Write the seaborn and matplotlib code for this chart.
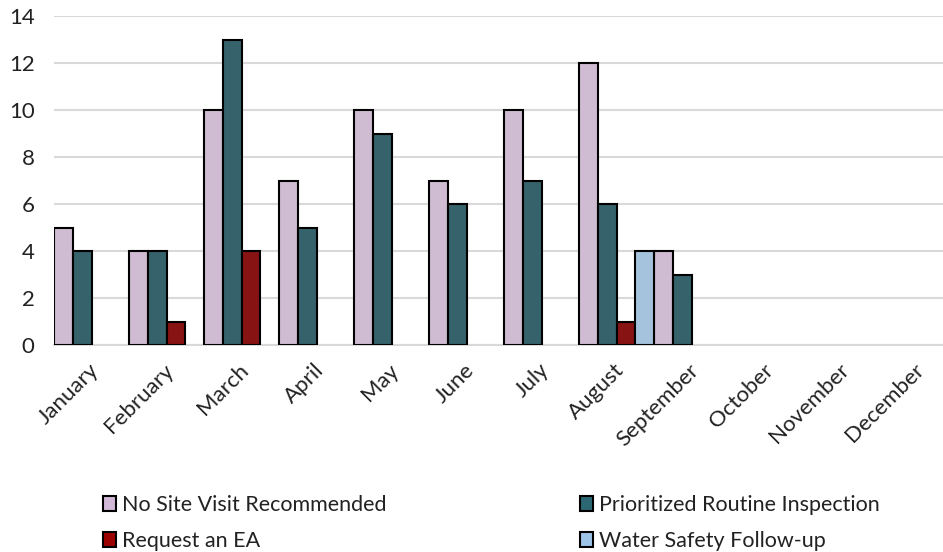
import numpy as np
import pandas as pd
import matplotlib
matplotlib.use("Agg")
import matplotlib.pyplot as plt
import matplotlib.transforms as mtransforms
import seaborn as sns
from matplotlib.patches import Patch

months = ["January", "February", "March", "April", "May", "June", "July",
          "August", "September", "October", "November", "December"]
series = ["No Site Visit Recommended", "Prioritized Routine Inspection",
          "Request an EA", "Water Safety Follow-up"]
no_site_visit = [5, 4, 10, 7, 10, 7, 10, 12, 4, None, None, None]
prioritized_routine = [4, 4, 13, 5, 9, 6, 7, 6, 3, None, None, None]
request_ea = [None, 1, 4, None, None, None, None, 1, None, None, None, None]
water_safety = [None, None, None, None, None, None, None, 4, None, None, None, None]
colors = ["#D1B8D7", "#2C6874", "#9B0000", "#9DC3E6"]

rows = []
for name, vals in zip(series, [no_site_visit, prioritized_routine, request_ea, water_safety]):
    for m, v in zip(months, vals):
        if v is not None:
            rows.append({"Month": m, "Series": name, "Count": v})
df = pd.DataFrame(rows)

sns.set_theme(style="white")
plt.rcParams["font.family"] = ["Lato", "DejaVu Sans"]

fig = plt.figure(figsize=(9.43, 5.52), dpi=100)
ax = fig.add_axes([54 / 943, 1 - 345 / 552, 1 - 54 / 943, (345 - 16) / 552])

sns.barplot(data=df, x="Month", y="Count", hue="Series", order=months,
            hue_order=series, palette=colors, width=1.0, gap=0,
            edgecolor="black", linewidth=1.5, ax=ax, legend=False, zorder=3)

ax.set_ylim(0, 14)
ax.set_yticks(range(0, 15, 2))
ax.set_xlim(-0.5, 11.35)
ax.yaxis.grid(True, color="#D9D9D9", linewidth=1.5, zorder=0)
ax.set_axisbelow(True)
for s in ["top", "right", "left"]:
    ax.spines[s].set_visible(False)
ax.spines["bottom"].set_color("#D9D9D9")
ax.spines["bottom"].set_linewidth(1.5)
ax.set_xlabel("")
ax.set_ylabel("")
ax.tick_params(axis="y", labelsize=16, pad=14, length=0, colors="#222222")
ax.tick_params(axis="x", labelsize=16, pad=0, length=0, colors="#222222")
offset = mtransforms.ScaledTranslation(4 / 100, -22 / 100, fig.dpi_scale_trans)
for lbl in ax.get_xticklabels():
    lbl.set_rotation(45)
    lbl.set_ha("right")
    lbl.set_va("center")
    lbl.set_rotation_mode("anchor")
    lbl.set_transform(lbl.get_transform() + offset)

order = [0, 2, 1, 3]
handles = [Patch(facecolor=colors[i], edgecolor="black", linewidth=1.5) for i in order]
labels = [series[i] for i in order]
fig.legend(handles, labels, loc="center left", bbox_to_anchor=(92 / 943, 1 - 523 / 552),
           ncol=2, frameon=False, fontsize=15.5, handlelength=0.6, handleheight=0.75,
           handletextpad=0.3, columnspacing=8.98, labelspacing=0.75,
           labelcolor="#222222", borderpad=0)

fig.savefig("out.png", dpi=100)
